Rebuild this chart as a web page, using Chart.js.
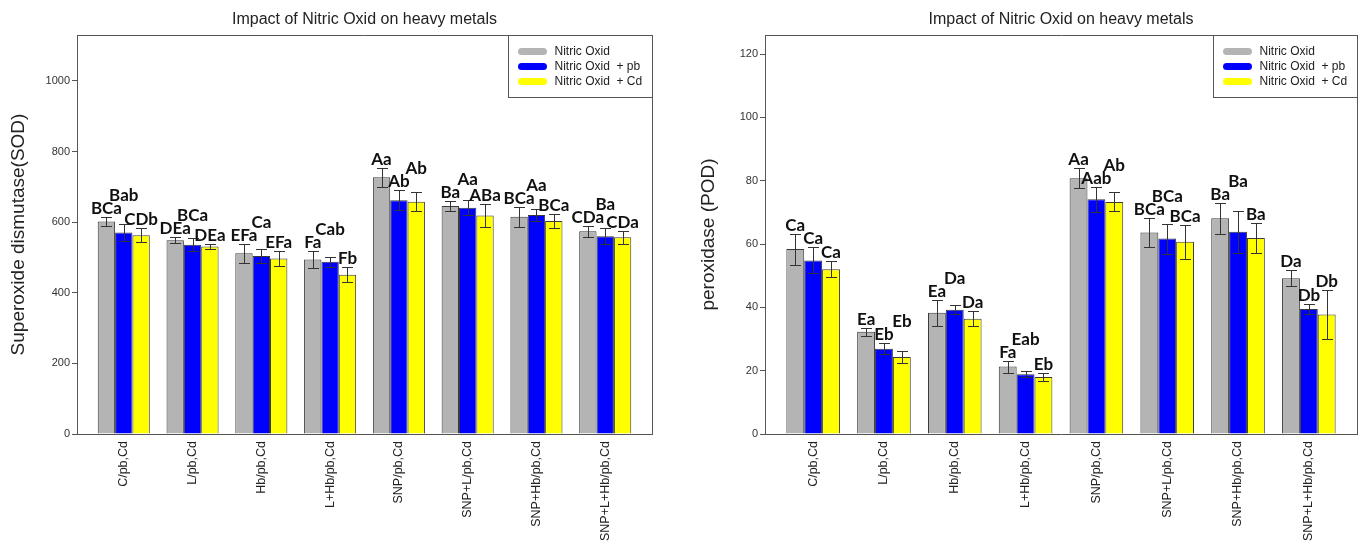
<!DOCTYPE html>
<html>
<head>
<meta charset="utf-8">
<script src="https://cdn.jsdelivr.net/npm/chart.js@4.4.1/dist/chart.umd.min.js"></script>
<style>
	html, body { margin: 0; padding: 0; background: #fff; }
	#wrap { position: relative; width: 1367px; height: 544px; overflow: hidden; }
	#wrap canvas { position: absolute; top: 0; }
</style>
</head>
<body>
<div id="wrap">
	<canvas id="sod-chart" width="683" height="544" style="left:0"></canvas>
	<canvas id="pod-chart" width="684" height="544" style="left:683px"></canvas>
</div>
<script>
const categories = ['C/pb,Cd', 'L/pb,Cd', 'Hb/pb,Cd', 'L+Hb/pb,Cd', 'SNP/pb,Cd', 'SNP+L/pb,Cd', 'SNP+Hb/pb,Cd', 'SNP+L+Hb/pb,Cd'];
const seriesNames = ['Nitric Oxid', 'Nitric Oxid  + pb', 'Nitric Oxid  + Cd'];
const chartTitle = 'Impact of Nitric Oxid on heavy metals';

// superoxide dismutase
const sodNO = [602, 549, 512, 494, 727, 646, 615, 574];
const sodNOPb = [571, 536, 504, 488, 662, 641, 620, 560];
const sodNOCd = [563, 531, 497, 451, 658, 619, 603, 557];
const sodErrNO = [13, 9, 27, 25, 27, 15, 29, 15];
const sodErrNOPb = [24, 19, 19, 14, 28, 22, 16, 22];
const sodErrNOCd = [19, 8, 20, 21, 27, 32, 21, 19];
const sodLettersNO = ['BCa', 'DEa', 'EFa', 'Fa', 'Aa', 'Ba', 'BCa', 'CDa'];
const sodLettersNOPb = ['Bab', 'BCa', 'Ca', 'Cab', 'Ab', 'Aa', 'Aa', 'Ba'];
const sodLettersNOCd = ['CDb', 'DEa', 'EFa', 'Fb', 'Ab', 'ABa', 'BCa', 'CDa'];
const sodTicks = [0, 200, 400, 600, 800, 1000];

// peroxidase
const podNO = [58.4, 32.3, 38.3, 21.3, 80.8, 63.6, 68.1, 49.2];
const podNOPb = [54.8, 26.9, 39.2, 18.9, 74.1, 61.7, 63.9, 39.5];
const podNOCd = [52.0, 24.3, 36.4, 18.0, 73.3, 60.7, 61.9, 37.7];
const podErrNO = [4.9, 1.3, 4.1, 1.9, 3.2, 4.6, 5.0, 2.6];
const podErrNOPb = [4.1, 1.7, 1.4, 1.0, 3.9, 4.7, 6.6, 1.6];
const podErrNOCd = [2.5, 2.0, 2.3, 1.2, 3.0, 5.3, 4.6, 7.8];
const podLettersNO = ['Ca', 'Ea', 'Ea', 'Fa', 'Aa', 'BCa', 'Ba', 'Da'];
const podLettersNOPb = ['Ca', 'Eb', 'Da', 'Eab', 'Aab', 'BCa', 'Ba', 'Db'];
const podLettersNOCd = ['Ca', 'Eb', 'Da', 'Eb', 'Ab', 'BCa', 'Ba', 'Db'];
const podTicks = [0, 20, 40, 60, 80, 100, 120];

const barColors = ['#b4b4b4', '#0000ff', '#ffff00'];
const lineColor = '#555';
const sansFont = '"Liberation Sans", Arial, sans-serif';

const errorBars = {
	id: 'errorBars',
	afterDatasetsDraw(chart) {
		const ctx = chart.ctx;
		const y = chart.scales.y;
		ctx.save();
		ctx.strokeStyle = '#333';
		ctx.lineWidth = 1;
		chart.data.datasets.forEach((ds, d) => {
			chart.getDatasetMeta(d).data.forEach((bar, i) => {
				const v = ds.data[i].y;
				const top = Math.round(y.getPixelForValue(v + ds.errors[i])) + 0.5;
				const bottom = Math.round(y.getPixelForValue(v - ds.errors[i])) + 0.5;
				const x = Math.round(bar.x) + 0.5;
				ctx.beginPath();
				ctx.moveTo(x, top);
				ctx.lineTo(x, bottom);
				ctx.moveTo(x - 5.5, top);
				ctx.lineTo(x + 5.5, top);
				ctx.moveTo(x - 5.5, bottom);
				ctx.lineTo(x + 5.5, bottom);
				ctx.stroke();
			});
		});
		ctx.restore();
	}
};

// letters sit on top of the error bar, pushed up when they run into a neighbour
const letters = {
	id: 'letters',
	afterDatasetsDraw(chart) {
		const ctx = chart.ctx;
		const y = chart.scales.y;
		const sets = chart.data.datasets;
		const placed = [];
		ctx.save();
		ctx.font = 'bold 17px Lato, "Open Sans", sans-serif';
		ctx.fillStyle = '#111';
		ctx.textAlign = 'center';
		ctx.textBaseline = 'alphabetic';
		const h = 12;
		for (let i = 0; i < categories.length; i++) {
			sets.forEach((ds, d) => {
				const bar = chart.getDatasetMeta(d).data[i];
				const text = ds.letters[i];
				const w = ctx.measureText(text).width;
				let bottom = y.getPixelForValue(ds.data[i].y + ds.errors[i]) - 3;
				let moved = true;
				while (moved) {
					moved = false;
					placed.forEach((p) => {
						const hit = Math.abs(bar.x - p.x) < (w + p.w) / 2 + 1 &&
							bottom > p.top && bottom - h < p.bottom;
						if (hit) {
							bottom = p.top - 1;
							moved = true;
						}
					});
				}
				placed.push({ x: bar.x, w: w, top: bottom - h, bottom: bottom });
				ctx.fillText(text, bar.x, bottom);
			});
		}
		ctx.restore();
	}
};

// box round the plot, legend in its top right corner, title centred on the plot
const frameAndLegend = {
	id: 'frameAndLegend',
	afterDraw(chart) {
		const ctx = chart.ctx;
		const a = chart.chartArea;
		ctx.save();
		ctx.strokeStyle = lineColor;
		ctx.lineWidth = 1;
		ctx.beginPath();
		ctx.moveTo(a.left, Math.round(a.top) + 0.5);
		ctx.lineTo(Math.round(a.right) + 0.5, Math.round(a.top) + 0.5);
		ctx.lineTo(Math.round(a.right) + 0.5, a.bottom);
		ctx.stroke();

		ctx.fillStyle = '#222';
		ctx.font = '16px ' + sansFont;
		ctx.textAlign = 'center';
		ctx.textBaseline = 'middle';
		ctx.fillText(chartTitle, (a.left + a.right) / 2, a.top - 15.5);

		const boxW = 144;
		const boxH = 62;
		const bx = Math.round(a.right - boxW) + 0.5;
		const by = Math.round(a.top) + 0.5;
		ctx.strokeRect(bx, by, boxW, boxH);

		ctx.font = '12px ' + sansFont;
		ctx.textAlign = 'left';
		chart.data.datasets.forEach((ds, d) => {
			const rowY = by + 16 + d * 15;
			ctx.strokeStyle = ds.backgroundColor;
			ctx.lineWidth = 7;
			ctx.lineCap = 'round';
			ctx.beginPath();
			ctx.moveTo(bx + 13, rowY);
			ctx.lineTo(bx + 35, rowY);
			ctx.stroke();
			ctx.fillStyle = '#222';
			ctx.fillText(ds.label, bx + 46, rowY);
		});
		ctx.restore();
	}
};

function makeChart(id, opts) {
	const datasets = opts.values.map((vals, d) => ({
		label: seriesNames[d],
		data: vals.map((v, i) => ({ x: i, y: v })),
		errors: opts.errors[d],
		letters: opts.letters[d],
		backgroundColor: barColors[d],
		borderColor: '#3a3a3a',
		borderWidth: 1,
		categoryPercentage: 0.757,
		barPercentage: 1.0
	}));

	return new Chart(document.getElementById(id), {
		type: 'bar',
		data: { datasets: datasets },
		plugins: [errorBars, letters, frameAndLegend],
		options: {
			responsive: false,
			animation: false,
			events: [],
			layout: {
				padding: { left: 0, right: opts.rightPad, top: 35, bottom: 0 }
			},
			plugins: {
				legend: { display: false },
				tooltip: { enabled: false },
				title: { display: false }
			},
			scales: {
				x: {
					type: 'linear',
					min: -0.68,
					max: 7.68,
					offset: false,
					afterBuildTicks: function(scale) {
						scale.ticks = categories.map((c, i) => ({ value: i }));
					},
					afterFit: function(scale) {
						scale.height = 110;
					},
					ticks: {
						autoSkip: false,
						minRotation: 90,
						maxRotation: 90,
						padding: 7,
						color: '#222',
						font: { family: sansFont, size: 12.5 },
						callback: function(value) {
							return categories[value];
						}
					},
					grid: { display: false, drawTicks: false },
					border: { display: true, color: lineColor }
				},
				y: {
					min: 0,
					max: opts.yMax,
					afterBuildTicks: function(scale) {
						scale.ticks = opts.ticks.map((t) => ({ value: t }));
					},
					afterFit: function(scale) {
						scale.width = opts.yWidth;
					},
					ticks: {
						padding: 2,
						color: '#333',
						font: { family: sansFont, size: 11 },
						callback: function(value) {
							return String(value);
						}
					},
					grid: {
						display: true,
						drawOnChartArea: false,
						drawTicks: true,
						tickLength: 5,
						color: lineColor
					},
					border: { display: true, color: lineColor },
					title: {
						display: true,
						text: opts.yTitle,
						color: '#222',
						font: { family: sansFont, size: 19 },
						padding: { top: opts.titlePad, bottom: 0 }
					}
				}
			}
		}
	});
}

makeChart('sod-chart', {
	values: [sodNO, sodNOPb, sodNOCd],
	errors: [sodErrNO, sodErrNOPb, sodErrNOCd],
	letters: [sodLettersNO, sodLettersNOPb, sodLettersNOCd],
	ticks: sodTicks,
	yMax: 1130,
	yTitle: 'Superoxide dismutase(SOD)',
	yWidth: 77,
	rightPad: 31,
	titlePad: 7
});

makeChart('pod-chart', {
	values: [podNO, podNOPb, podNOCd],
	errors: [podErrNO, podErrNOPb, podErrNOCd],
	letters: [podLettersNO, podLettersNOPb, podLettersNOCd],
	ticks: podTicks,
	yMax: 126,
	yTitle: 'peroxidase (POD)',
	yWidth: 82,
	rightPad: 10,
	titlePad: 14
});
</script>
</body>
</html>
